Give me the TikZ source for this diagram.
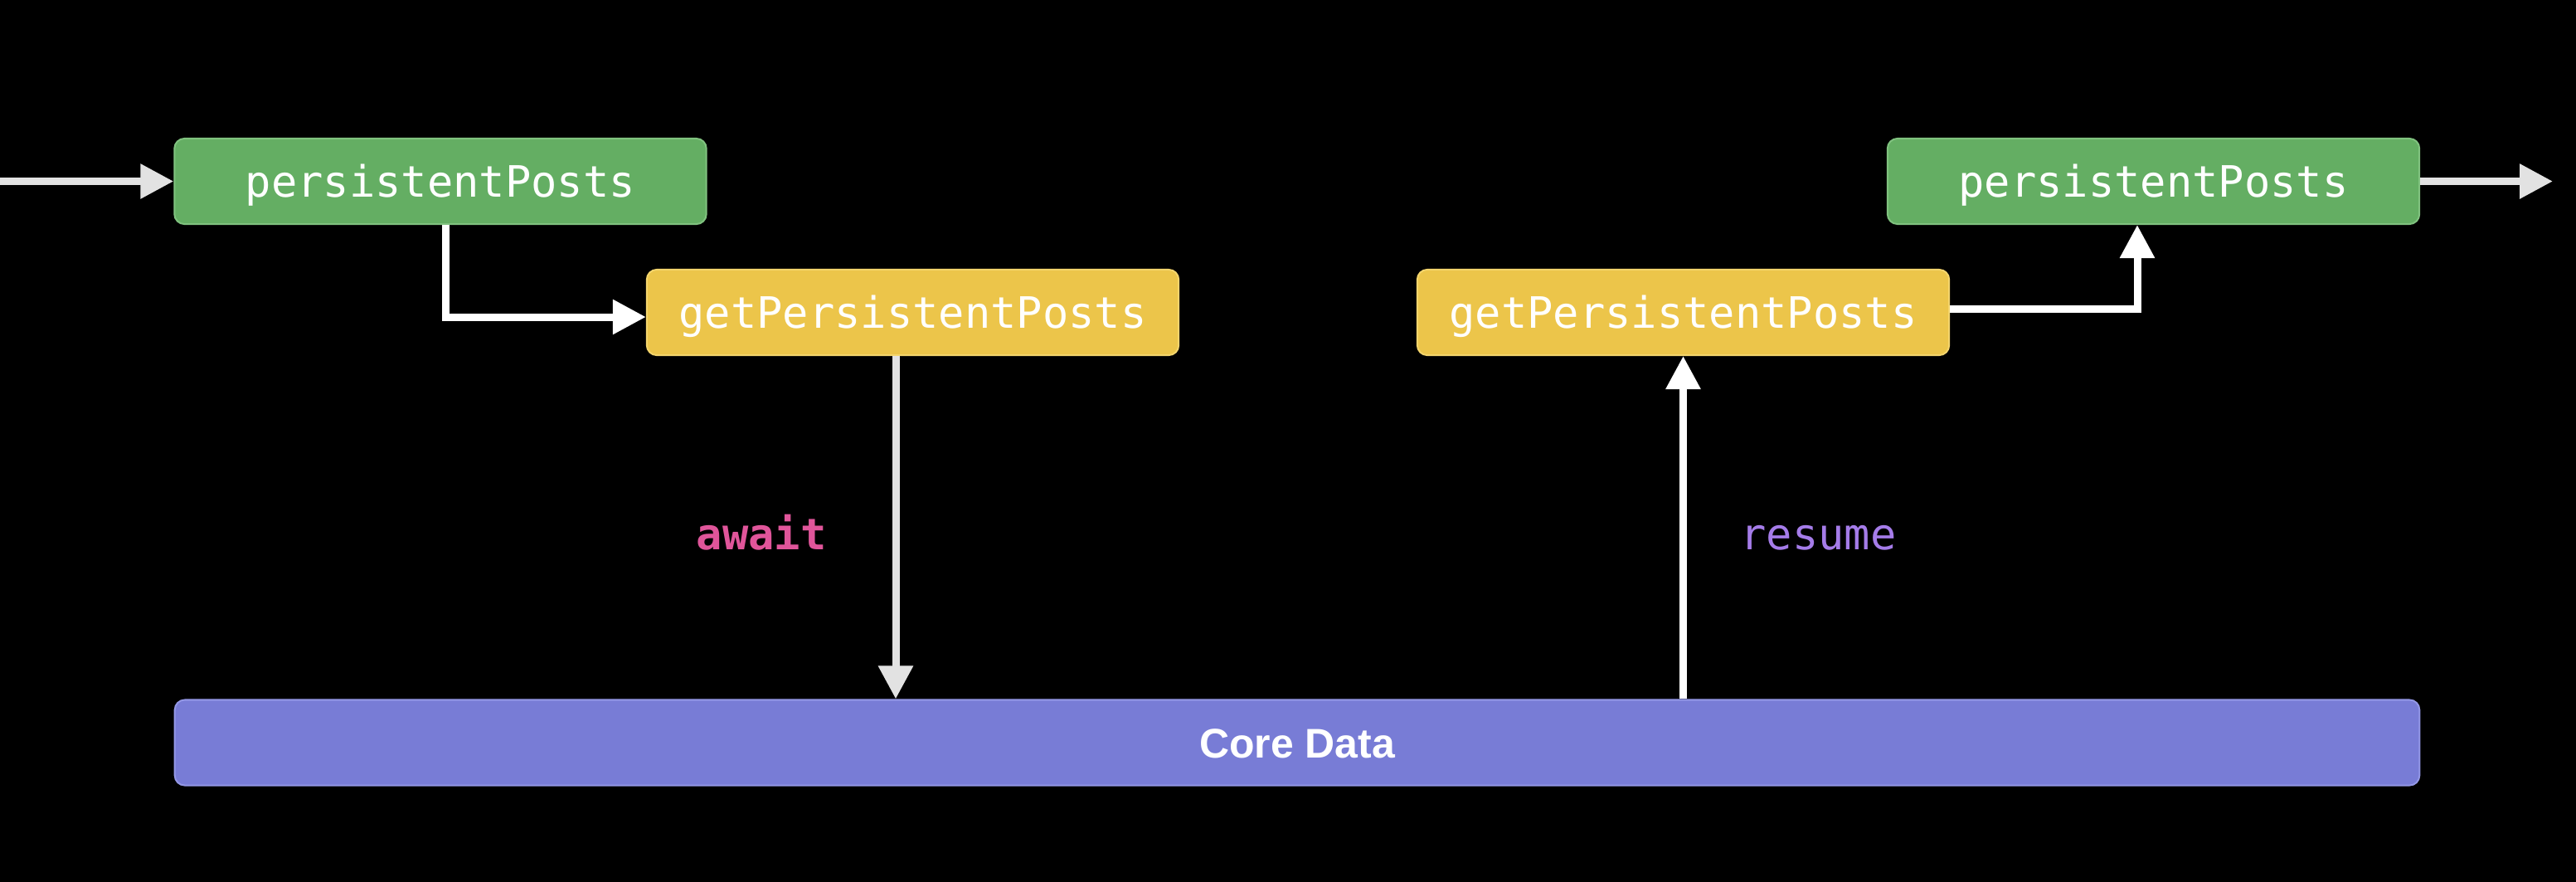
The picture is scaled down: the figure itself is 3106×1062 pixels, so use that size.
\documentclass[tikz,border=0pt]{standalone}
\usepackage{fontspec}
\setmainfont{Liberation Sans}
\setmonofont{DejaVu Sans Mono}
\usetikzlibrary{arrows.meta}
\usetikzlibrary{positioning}
\definecolor{mgreen}{HTML}{64AE63}
\definecolor{mgreenl}{HTML}{80C27F}
\definecolor{myellow}{HTML}{ECC54A}
\definecolor{myellowl}{HTML}{F4D56C}
\definecolor{mpurple}{HTML}{787CD6}
\definecolor{mpurplel}{HTML}{9397E6}
\definecolor{mpink}{HTML}{E0559A}
\definecolor{mviolet}{HTML}{A57CE9}
\definecolor{lgray}{HTML}{E2E2E2}
\tikzset{box/.style = {rounded corners = 0.12cm, line width = 0.02cm, minimum width = 6.41cm, minimum height = 1.03cm, inner sep = 0, text = white, font = \fontsize{14.8}{18}\selectfont\ttfamily, text height = 0.37cm, text depth = 0}}
\tikzset{flow/.style = {line width = 0.09cm, -{Triangle[width = 0.4cm, length = 0.4cm]}}}
\tikzset{lbl/.style = {anchor = base, inner sep = 0, font = \fontsize{14.8}{18}\selectfont\ttfamily}}

\begin{document}
\begin{tikzpicture}[x = 0.01cm, y = -0.01cm]
      \useasboundingbox (0, 0) rectangle (3106, 1062);
      \fill [black] (-20, -20) rectangle (3126, 1082);
      \node [box, fill = mgreen, draw = mgreenl] (pp1) at (531, 218.5) {persistentPosts};
      \node [box, fill = myellow, draw = myellowl] (gp1) at (1100.5, 376.5) {getPersistentPosts};
      \node [box, fill = myellow, draw = myellowl] (gp2) at (2029.5, 376.5) {getPersistentPosts};
      \node [box, fill = mgreen, draw = mgreenl] (pp2) at (2596.5, 218.5) {persistentPosts};
      \node [box, minimum width = 27.05cm, fill = mpurple, draw = mpurplel, font = \fontsize{14.2}{17}\selectfont\bfseries] (core) at (1564, 895) {Core Data};
      \coordinate (in) at (0, 218.5);
      \coordinate (out) at (3078, 218.5);
      \draw [flow, lgray] (in) -- (pp1);
      \draw [flow, white] ([xshift = 0.06cm]pp1.south) |- ([yshift = -0.055cm]gp1.west);
      \draw [flow, lgray] ([xshift = -0.205cm]gp1.south) -- ([xshift = -0.205cm]gp1.south |- core.north);
      \draw [flow, white] (core.north -| gp2.south) -- (gp2.south);
      \draw [flow, white] ([yshift = 0.045cm]gp2.east) -| ([xshift = -0.195cm]pp2.south);
      \draw [flow, lgray] (pp2) -- (out);
      \node [lbl, text = mpink, font = \fontsize{14.8}{18}\selectfont\ttfamily\bfseries] (await) at (918, 662) {await};
      \node [lbl, text = mviolet] (resume) at (2192.5, 662) {resume};
    \end{tikzpicture}
\end{document}
